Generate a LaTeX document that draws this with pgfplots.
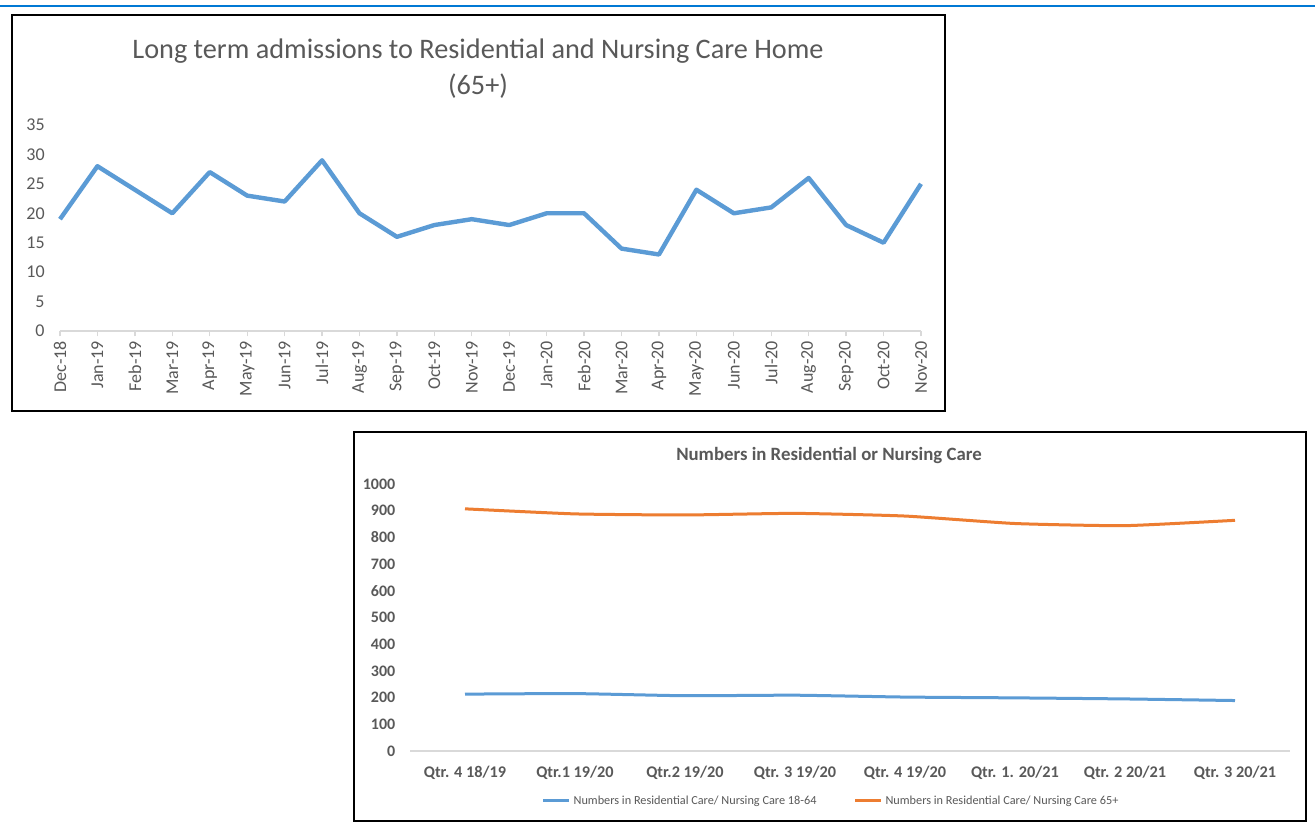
\documentclass[border=0pt]{standalone}
\usepackage{fontspec}
\setmainfont{Carlito}
\usepackage{pgfplots}
\pgfplotsset{compat=1.18}
\definecolor{txt}{HTML}{595959}
\definecolor{axgray}{HTML}{D9D9D9}
\definecolor{xlblue}{HTML}{5B9BD5}
\definecolor{xlorange}{HTML}{ED7D31}
\definecolor{topline}{HTML}{0078D4}

\begin{document}
\begin{tikzpicture}
% page frame, 1 px = 0.75pt, y downwards
\begin{scope}[x=0.75pt,y=-0.75pt]
\fill[white] (0,0) rectangle (1315,827);
\useasboundingbox (0,0) rectangle (1315,827);
\draw[topline, line width=2.2pt] (0,6) -- (1315,6);
\draw[black, line width=1.5pt] (12,15) rectangle (945,411);
\draw[black, line width=1.1pt] (354,432) rectangle (1306,821);
\node[txt, font=\fontsize{21.2}{24}\selectfont] at (478,51) {Long term admissions to Residential and Nursing Care Home};
\node[txt, font=\fontsize{21.2}{24}\selectfont] at (478,86) {(65+)};
\node[txt, font=\bfseries\fontsize{14.1}{16}\selectfont] at (829,455) {Numbers in Residential or Nursing Care};
\end{scope}

% chart 1: monthly admissions
\begin{axis}[
  at={(45pt,-248.25pt)}, anchor=south west,
  scale only axis, width=645.75pt, height=154.5pt,
  xmin=0, xmax=23, ymin=0, ymax=35,
  axis x line*=bottom, axis y line*=left,
  y axis line style={draw=none},
  x axis line style={axgray, line width=1pt, -},
  xtick={0,...,23},
  xticklabels={Dec-18,Jan-19,Feb-19,Mar-19,Apr-19,May-19,Jun-19,Jul-19,Aug-19,Sep-19,Oct-19,Nov-19,Dec-19,Jan-20,Feb-20,Mar-20,Apr-20,May-20,Jun-20,Jul-20,Aug-20,Sep-20,Oct-20,Nov-20},
  ytick={0,5,...,35},
  tick align=outside, major tick length=4pt,
  xtick style={axgray, line width=1pt},
  ytick style={draw=none},
  xticklabel style={rotate=90, anchor=east, font=\fontsize{13.5}{14}\selectfont, text=txt},
  yticklabel style={font=\fontsize{13.5}{14}\selectfont, text=txt, xshift=-4pt},
  /pgf/number format/assume math mode=true,
  clip=false,
]
\addplot[xlblue, line width=3.3pt, line join=round] coordinates {
  (0,19) (1,28) (2,24) (3,20) (4,27) (5,23) (6,22) (7,29) (8,20) (9,16) (10,18) (11,19)
  (12,18) (13,20) (14,20) (15,14) (16,13) (17,24) (18,20) (19,21) (20,26) (21,18) (22,15) (23,25)
};
\end{axis}

% chart 2: quarterly numbers
\begin{axis}[
  at={(307.5pt,-563.25pt)}, anchor=south west,
  scale only axis, width=660pt, height=200.25pt,
  xmin=-0.5, xmax=7.5, ymin=0, ymax=1000,
  axis x line*=bottom, axis y line*=left,
  y axis line style={draw=none},
  x axis line style={axgray, line width=1pt, -},
  xtick={0,...,7},
  xticklabels={Qtr. 4 18/19,Qtr.1 19/20,Qtr.2 19/20,Qtr. 3 19/20,Qtr. 4 19/20,Qtr. 1. 20/21,Qtr. 2 20/21,Qtr. 3 20/21},
  ytick={0,100,...,1000},
  xtick style={draw=none}, ytick style={draw=none},
  xticklabel style={font=\bfseries\fontsize{12.2}{14}\selectfont, text=txt, yshift=-8pt},
  yticklabel style={font=\bfseries\fontsize{12}{14}\selectfont, text=txt, xshift=-7.5pt},
  /pgf/number format/assume math mode=true,
  /pgf/number format/1000 sep={},
  legend style={draw=none, fill=none, at={(0.479,-0.187)}, anchor=center,
    legend columns=2, font=\fontsize{9.2}{10}\selectfont, text=txt,
    /tikz/every even column/.append style={column sep=26pt}},
  legend image code/.code={\draw[#1] (0pt,0pt) -- (19.5pt,0pt);},
  clip=false,
]
\addplot[xlblue, line width=2.25pt, smooth, tension=0.3] coordinates {
  (0,213) (1,215) (2,207) (3,209) (4,202) (5,199) (6,195) (7,189)
};
\addlegendentry{Numbers in Residential Care/ Nursing Care 18-64}
\addplot[xlorange, line width=2.25pt, smooth, tension=0.3] coordinates {
  (0,907) (1,888) (2,884) (3,890) (4,880) (5,852) (6,844) (7,864)
};
\addlegendentry{Numbers in Residential Care/ Nursing Care 65+}
\end{axis}
\end{tikzpicture}
\end{document}
